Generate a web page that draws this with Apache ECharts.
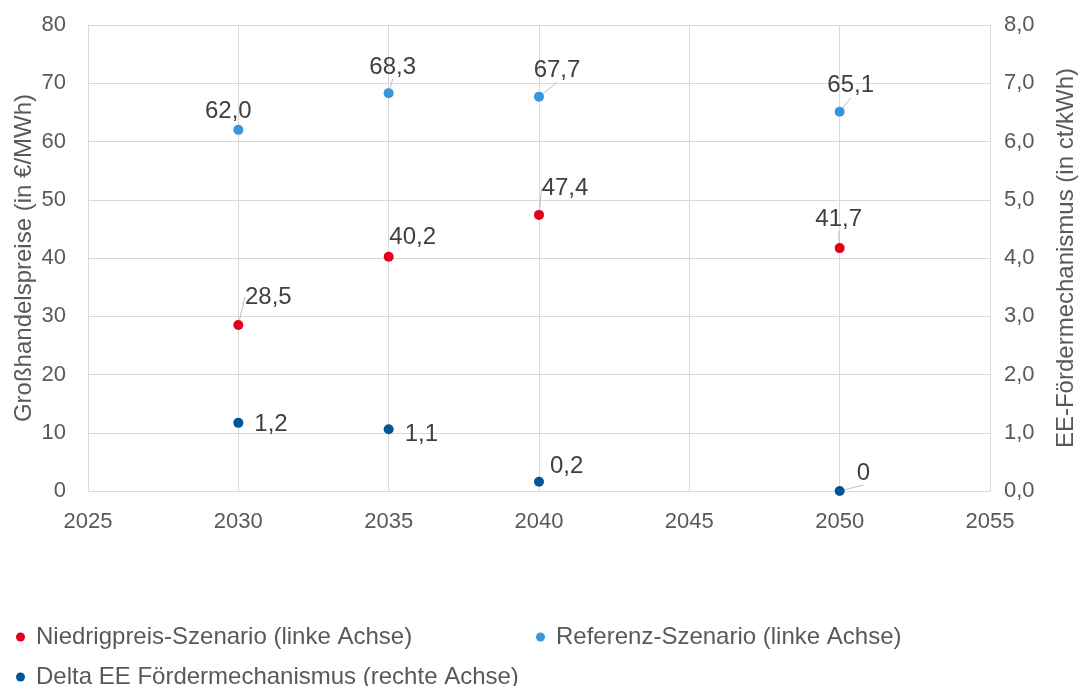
<!DOCTYPE html>
<html>
<head>
<meta charset="utf-8">
<script src="https://cdn.jsdelivr.net/npm/echarts@6/dist/echarts.min.js"></script>
<style>
  html, body { margin: 0; padding: 0; background: #fff; }
  #chart { width: 1078px; height: 686px; }
</style>
</head>
<body>
<div id="chart"></div>
<script>
// Daten
var years = [2030, 2035, 2040, 2050];
var niedrigpreis = [28.5, 40.2, 47.4, 41.7];
var referenz = [62.0, 68.3, 67.7, 65.1];
var deltaEE = [1.17, 1.06, 0.16, 0];
var seriesNames = [
  'Niedrigpreis-Szenario (linke Achse)',
  'Referenz-Szenario (linke Achse)',
  'Delta EE Fördermechanismus (rechte Achse)'
];

// label offsets (dx, dy) and leader-line flags per point, only for layout
var labelShift = [
  [[30, -6], [24, 3], [26, -5], [-1, -7]],
  [[-10, 4], [4, -4], [18, -4], [11, -4]],
  [[6, 2], [6, 5], [1, -15], [7, -18]]
];
var showLeader = [
  [true, false, true, true],
  [false, true, true, true],
  [false, false, false, true]
];

var fmt = function (v) {
  return v.toFixed(1).replace('.', ',');
};

var myChart = echarts.init(document.getElementById('chart'));
var colors = ['#e2001a', '#3a96d8', '#005596'];
var font = 'Liberation Sans, Arial, sans-serif';

function points(idx, vals) {
  var out = [];
  for (var i = 0; i < years.length; i++) {
    out.push({
      value: [years[i], vals[i]],
      labelLine: { show: showLeader[idx][i] }
    });
  }
  return out;
}

function makeSeries(idx, vals, yIndex, pos) {
  return {
    name: seriesNames[idx],
    type: 'scatter',
    yAxisIndex: yIndex,
    symbolSize: 10,
    itemStyle: { color: colors[idx], opacity: 1 },
    data: points(idx, vals),
    label: {
      show: true,
      position: pos,
      distance: 5,
      color: '#404040',
      fontSize: 24,
      fontFamily: font,
      formatter: function (p) {
        var v = p.value[1];
        return v === 0 ? '0' : fmt(v);
      }
    },
    labelLine: {
      show: true,
      lineStyle: { color: '#bfbfbf', width: 1 }
    },
    labelLayout: function (p) {
      var s = labelShift[idx][p.dataIndex];
      return { dx: s[0], dy: s[1] };
    }
  };
}

var legendBase = {
  icon: 'circle',
  itemWidth: 9,
  itemHeight: 9,
  textStyle: {
    color: '#595959',
    fontSize: 24,
    fontFamily: font,
    padding: [0, 0, 0, 6]
  }
};

var option = {
  animation: false,
  color: colors,
  grid: { left: 88, right: 88, top: 25, bottom: 195, outerBoundsMode: 'none' },
  legend: [
    Object.assign({ left: 11, top: 620, data: [seriesNames[0]] }, legendBase),
    Object.assign({ left: 531, top: 620, data: [seriesNames[1]] }, legendBase),
    Object.assign({ left: 11, top: 660, data: [seriesNames[2]] }, legendBase)
  ],
  xAxis: {
    type: 'value',
    min: 2025,
    max: 2055,
    interval: 5,
    axisLine: { lineStyle: { color: '#d9d9d9' } },
    axisTick: { show: false },
    splitLine: { show: true, lineStyle: { color: '#d9d9d9' } },
    axisLabel: {
      color: '#595959',
      fontSize: 22,
      fontFamily: font,
      margin: 20,
      formatter: function (v) { return String(v); }
    }
  },
  yAxis: [{
    type: 'value',
    min: 0,
    max: 80,
    interval: 10,
    name: 'Großhandelspreise (in €/MWh)',
    nameLocation: 'middle',
    nameGap: 52,
    nameMoveOverlap: false,
    nameTextStyle: { color: '#595959', fontSize: 24, fontFamily: font },
    axisLine: { show: true, lineStyle: { color: '#d9d9d9' } },
    axisTick: { show: false },
    splitLine: { lineStyle: { color: '#d9d9d9' } },
    axisLabel: { color: '#595959', fontSize: 22, fontFamily: font, margin: 22 }
  }, {
    type: 'value',
    min: 0,
    max: 8,
    interval: 1,
    position: 'right',
    name: 'EE-Fördermechanismus (in ct/kWh)',
    nameLocation: 'middle',
    nameGap: 64,
    nameRotate: 90,
    nameTextStyle: { color: '#595959', fontSize: 24, fontFamily: font },
    axisLine: { show: true, lineStyle: { color: '#d9d9d9' } },
    axisTick: { show: false },
    splitLine: { show: false },
    axisLabel: {
      color: '#595959',
      fontSize: 22,
      fontFamily: font,
      margin: 14,
      formatter: function (v) { return fmt(v); }
    }
  }],
  series: [
    makeSeries(0, niedrigpreis, 0, 'top'),
    makeSeries(1, referenz, 0, 'top'),
    makeSeries(2, deltaEE, 1, 'right')
  ]
};

myChart.setOption(option);
window.addEventListener('resize', function () {
  myChart.resize();
});
</script>
</body>
</html>
